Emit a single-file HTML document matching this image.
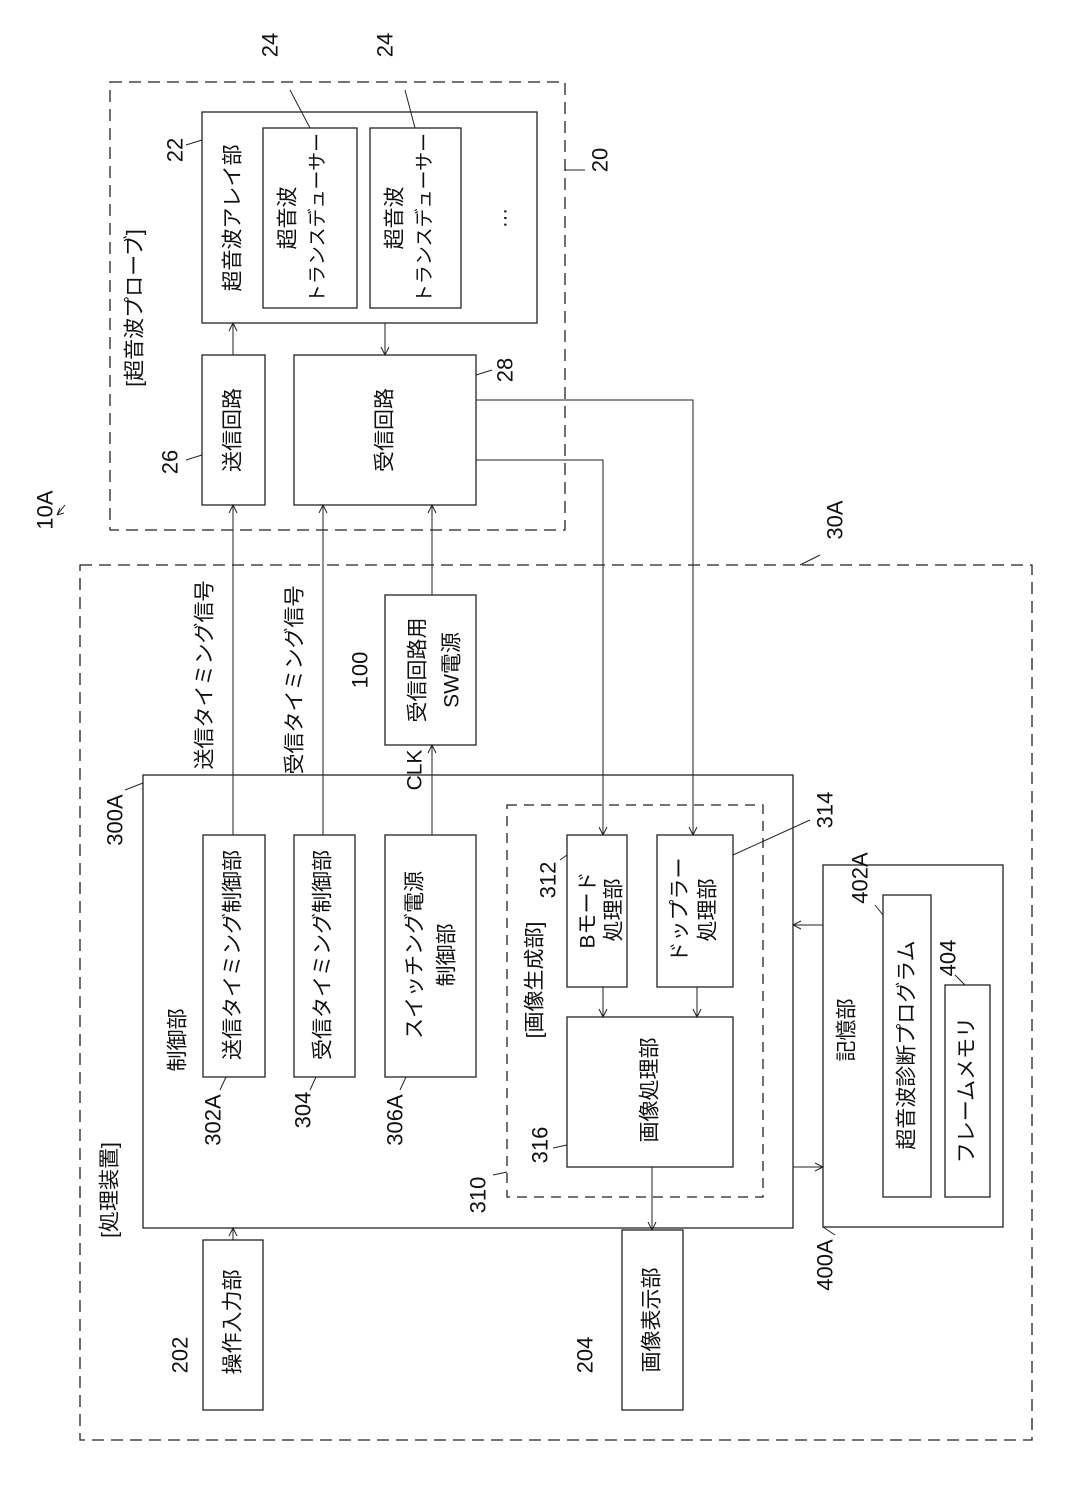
<!DOCTYPE html>
<html><head><meta charset="utf-8"><style>
body{margin:0;background:#fff}
svg{display:block}
text{font-family:"Liberation Sans","Noto Sans CJK JP",sans-serif;fill:#111}
</style></head><body>
<svg width="1087" height="1496" viewBox="0 0 1087 1496" xmlns="http://www.w3.org/2000/svg">
<defs><marker id="a" markerWidth="10" markerHeight="10" refX="9" refY="5" orient="auto" markerUnits="userSpaceOnUse"><path d="M1,1 L9,5 L1,9" fill="none" stroke="#222" stroke-width="1"/></marker></defs>
<g fill="none" stroke="#222" stroke-width="1.3">
<rect x="110" y="82" width="455" height="448" stroke-dasharray="12,7"/>
<rect x="80" y="565" width="952" height="875" stroke-dasharray="12,7"/>
<rect x="202" y="112" width="335" height="211"/>
<rect x="263" y="128" width="94" height="180"/>
<rect x="370" y="128" width="91" height="180"/>
<rect x="202" y="355" width="63" height="150"/>
<rect x="294" y="355" width="182" height="150"/>
<rect x="385" y="595" width="91" height="150"/>
<rect x="143" y="775" width="650" height="453"/>
<rect x="203" y="835" width="62" height="242"/>
<rect x="294" y="835" width="61" height="242"/>
<rect x="385" y="835" width="91" height="242"/>
<rect x="507" y="805" width="256" height="392" stroke-dasharray="10,7"/>
<rect x="567" y="835" width="60" height="152"/>
<rect x="657" y="835" width="76" height="152"/>
<rect x="567" y="1017" width="166" height="150"/>
<rect x="203" y="1240" width="60" height="170"/>
<rect x="622" y="1230" width="61" height="180"/>
<rect x="823" y="865" width="180" height="362"/>
<rect x="883" y="895" width="48" height="302"/>
<rect x="945" y="985" width="45" height="212"/>
</g>
<g fill="none" stroke="#222" stroke-width="1" marker-end="url(#a)">
<path d="M233 355 V323"/>
<path d="M385 323 V355"/>
<path d="M233 835 V505"/>
<path d="M323 835 V505"/>
<path d="M432 595 V505"/>
<path d="M432 835 V745"/>
<path d="M476 400 H693 V835"/>
<path d="M476 460 H603 V835"/>
<path d="M603 987 V1017"/>
<path d="M697 987 V1017"/>
<path d="M652 1167 V1230"/>
<path d="M233 1240 V1228"/>
<path d="M823 925 H793"/>
<path d="M793 1167 H823"/>
</g>
<g fill="none" stroke="#222" stroke-width="1">
<path d="M186 145 L202 140"/><path d="M290 90 L310 128"/><path d="M405 90 L415 128"/>
<path d="M565 170 L585 170"/><path d="M186 460 L202 455"/><path d="M476 375 L492 370"/>
<path d="M820 555 L800 565"/><path d="M125 790 L143 783"/>
<path d="M220 1090 L226 1077"/><path d="M310 1090 L316 1077"/><path d="M400 1090 L406 1077"/>
<path d="M493 1175 L507 1172"/><path d="M553 1148 L567 1145"/><path d="M560 860 L567 855"/>
<path d="M733 855 L810 820"/><path d="M835 1235 L823 1227"/><path d="M875 905 L883 915"/><path d="M955 975 L965 985"/>
<path d="M57 515 L65 505 M57 515 L60 508 M57 515 L64 513"/>
</g>
<g font-size="21" text-anchor="middle" dominant-baseline="central">
<text transform="translate(135,308) rotate(-90)">[超音波プローブ]</text>
<text transform="translate(233,218) rotate(-90)">超音波アレイ部</text>
<text transform="translate(288,218) rotate(-90)">超音波</text>
<text transform="translate(318,218) rotate(-90)" font-size="19">トランスデューサー</text>
<text transform="translate(395,218) rotate(-90)">超音波</text>
<text transform="translate(425,218) rotate(-90)" font-size="19">トランスデューサー</text>
<text transform="translate(500,218) rotate(-90)">…</text>
<text transform="translate(233,430) rotate(-90)">送信回路</text>
<text transform="translate(385,430) rotate(-90)">受信回路</text>
<text transform="translate(205,675) rotate(-90)">送信タイミング信号</text>
<text transform="translate(295,680) rotate(-90)">受信タイミング信号</text>
<text transform="translate(415,770) rotate(-90)">CLK</text>
<text transform="translate(418,670) rotate(-90)">受信回路用</text>
<text transform="translate(452,670) rotate(-90)">SW電源</text>
<text transform="translate(178,1040) rotate(-90)">制御部</text>
<text transform="translate(233,955) rotate(-90)">送信タイミング制御部</text>
<text transform="translate(323,955) rotate(-90)">受信タイミング制御部</text>
<text transform="translate(415,955) rotate(-90)">スイッチング電源</text>
<text transform="translate(447,955) rotate(-90)">制御部</text>
<text transform="translate(535,980) rotate(-90)">[画像生成部]</text>
<text transform="translate(588,910) rotate(-90)">Bモード</text>
<text transform="translate(614,910) rotate(-90)">処理部</text>
<text transform="translate(680,910) rotate(-90)">ドップラー</text>
<text transform="translate(708,910) rotate(-90)">処理部</text>
<text transform="translate(650,1090) rotate(-90)">画像処理部</text>
<text transform="translate(110,1190) rotate(-90)">[処理装置]</text>
<text transform="translate(233,1322) rotate(-90)">操作入力部</text>
<text transform="translate(652,1320) rotate(-90)">画像表示部</text>
<text transform="translate(847,1030) rotate(-90)">記憶部</text>
<text transform="translate(907,1045) rotate(-90)">超音波診断プログラム</text>
<text transform="translate(967,1090) rotate(-90)">フレームメモリ</text>
</g>
<g font-size="22" text-anchor="middle" dominant-baseline="central">
<text transform="translate(45,510) rotate(-90)">10A</text>
<text transform="translate(175,150) rotate(-90)">22</text>
<text transform="translate(270,45) rotate(-90)">24</text>
<text transform="translate(385,45) rotate(-90)">24</text>
<text transform="translate(600,160) rotate(-90)">20</text>
<text transform="translate(170,462) rotate(-90)">26</text>
<text transform="translate(505,370) rotate(-90)">28</text>
<text transform="translate(835,520) rotate(-90)">30A</text>
<text transform="translate(360,670) rotate(-90)">100</text>
<text transform="translate(115,820) rotate(-90)">300A</text>
<text transform="translate(213,1120) rotate(-90)">302A</text>
<text transform="translate(303,1110) rotate(-90)">304</text>
<text transform="translate(395,1120) rotate(-90)">306A</text>
<text transform="translate(478,1195) rotate(-90)">310</text>
<text transform="translate(548,880) rotate(-90)">312</text>
<text transform="translate(825,810) rotate(-90)">314</text>
<text transform="translate(540,1145) rotate(-90)">316</text>
<text transform="translate(180,1355) rotate(-90)">202</text>
<text transform="translate(585,1355) rotate(-90)">204</text>
<text transform="translate(825,1265) rotate(-90)">400A</text>
<text transform="translate(860,878) rotate(-90)">402A</text>
<text transform="translate(948,958) rotate(-90)">404</text>
</g>
</svg>
</body></html>
